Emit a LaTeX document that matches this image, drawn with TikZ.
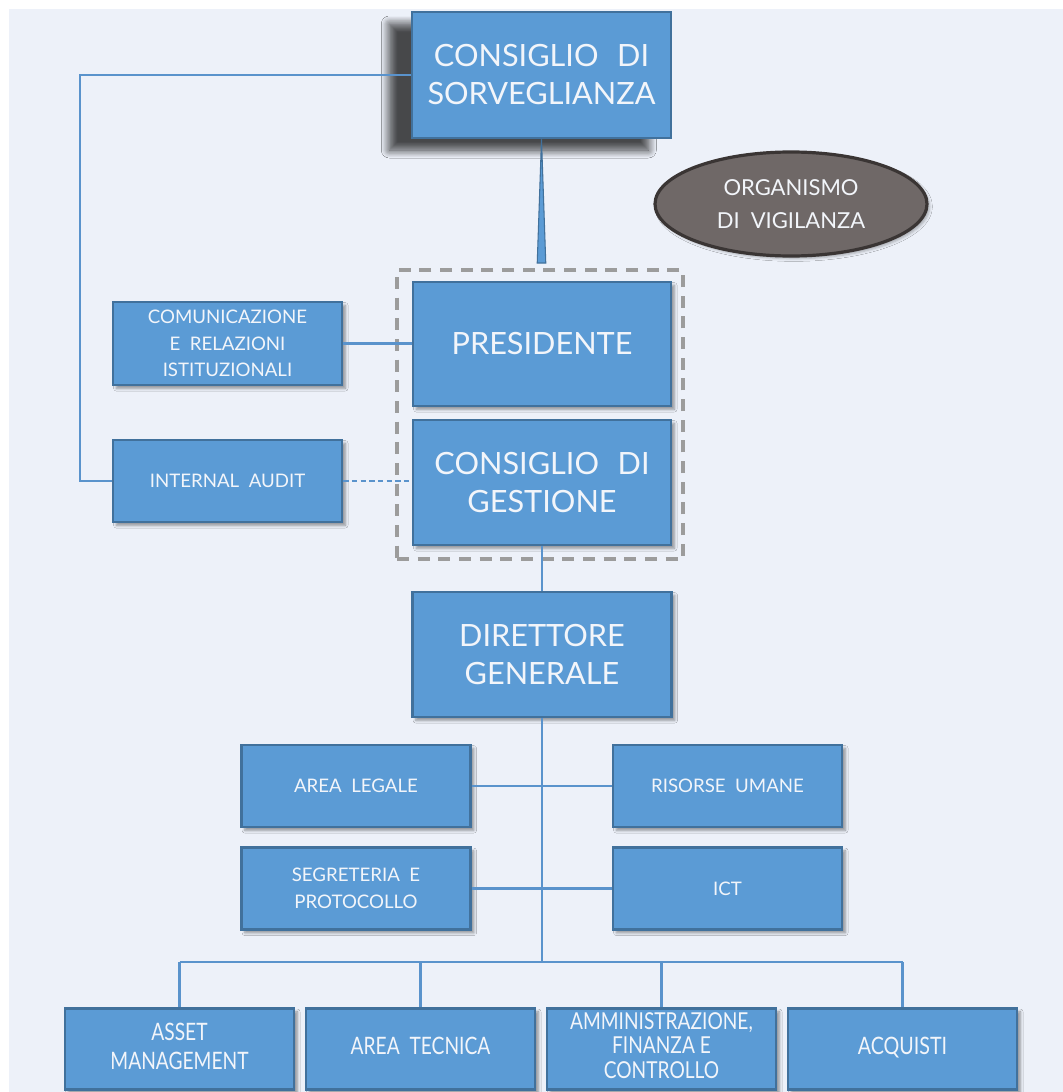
\documentclass[tikz,border=0pt]{standalone}
\usepackage{fontspec}
\usepackage{graphicx}
\setmainfont{Lato}
\usetikzlibrary{shadows.blur,shapes.geometric}
\definecolor{bgc}{HTML}{EDF1F9}
\definecolor{boxfill}{HTML}{5B9BD5}
\definecolor{boxdraw}{HTML}{41719C}
\definecolor{linec}{HTML}{5A93CC}
\definecolor{txtc}{HTML}{F2F5FA}
\definecolor{ellfill}{HTML}{6F6867}
\definecolor{elldraw}{HTML}{3A3534}
\definecolor{dashgray}{HTML}{9C9C9C}
\newcommand{\cond}[2]{\scalebox{#1}[1]{\begin{tabular}{@{}c@{}}#2\end{tabular}}}
\begin{document}
\begin{tikzpicture}[x=0.75pt,y=-0.75pt,
  wh/.style 2 args={minimum width=#1*0.75pt,minimum height=#2*0.75pt},
  box/.style={draw=boxdraw,fill=boxfill,line width=1.9pt,inner sep=0pt,
    text=txtc,align=center,
    blur shadow={shadow xshift=2.5pt,shadow yshift=-2.5pt,shadow blur steps=6,shadow opacity=40}},
  bigbox/.style={box,font=\fontsize{23}{28.5}\selectfont},
  smallbox/.style={box,font=\fontsize{14}{20}\selectfont},
  lowbox/.style={box,font=\fontsize{18}{21.5}\selectfont},
  conn/.style={draw=linec,line width=1.8pt},
  dashconn/.style={conn,dash pattern=on 4pt off 2.5pt}]
\useasboundingbox (0,0) rectangle (1063,1092);
\fill[white] (0,0) rectangle (1063,1092);
\fill[bgc] (9,9) rectangle (1063,1092);

% dashed group
\node[draw=dashgray,line width=2.5pt,dash pattern=on 9pt off 6.5pt,wh={286}{289}] (grp) at (540,414.5) {};

% top
\node[bigbox,wh={259}{126},
  blur shadow={shadow xshift=-17pt,shadow yshift=-9pt,shadow blur steps=10,shadow blur radius=6pt,shadow opacity=45}]
  (cds) at (541.5,75) {CONSIGLIO\hspace{0.35em} DI\\SORVEGLIANZA};
\node[ellipse,draw=elldraw,line width=2.4pt,fill=ellfill,wh={272}{104},inner sep=0pt,
  text=txtc,align=center,font=\fontsize{16.5}{25}\selectfont,
  blur shadow={shadow xshift=2pt,shadow yshift=-2pt,shadow opacity=30}]
  (odv) at (791,204) {ORGANISMO\\DI\hspace{0.25em} VIGILANZA};

\node[bigbox,wh={258}{124}] (pres) at (542,344) {PRESIDENTE};
\node[bigbox,wh={258}{125}] (cdg) at (542,482.5) {CONSIGLIO\hspace{0.35em} DI\\GESTIONE};
\node[smallbox,wh={229}{83}] (com) at (227.5,343.5) {COMUNICAZIONE\\E\hspace{0.25em} RELAZIONI\\ISTITUZIONALI};
\node[smallbox,wh={229}{82}] (ia) at (227.5,481) {INTERNAL\hspace{0.25em} AUDIT};

\node[bigbox,wh={259}{125}] (dg) at (542,654.5) {DIRETTORE\\GENERALE};

\node[smallbox,wh={229}{82}] (al) at (356,786) {AREA\hspace{0.25em} LEGALE};
\node[smallbox,wh={229}{82}] (ru) at (727.5,786) {RISORSE\hspace{0.25em} UMANE};
\node[smallbox,wh={229}{82}] (seg) at (356,888.5) {SEGRETERIA\hspace{0.25em} E\\PROTOCOLLO};
\node[smallbox,wh={229}{82}] (ict) at (727.5,888.5) {ICT};

\node[lowbox,wh={229}{81}] (am) at (179.5,1049) {\raisebox{-4pt}{\cond{0.8}{ASSET\\MANAGEMENT}}};
\node[lowbox,wh={229}{81}] (at) at (420.5,1049) {\cond{0.8}{AREA\hspace{0.25em} TECNICA}};
\node[lowbox,wh={229}{81}] (amm) at (661.5,1049) {\fontsize{17.5}{18.5}\selectfont\cond{0.82}{AMMINISTRAZIONE,\\FINANZA E\\CONTROLLO}};
\node[lowbox,wh={229}{81}] (acq) at (902.5,1049) {\cond{0.82}{ACQUISTI}};

% connectors
\draw[conn] (cds.west) -- ++(-331,0) |- (ia.west);
\coordinate (gtop) at (541.5,263);
\filldraw[draw=boxdraw,fill=boxfill,line width=0.8pt,line join=miter] (cds.south) -- ([xshift=-3.2pt]gtop) -- ([xshift=3.2pt]gtop) -- cycle;
\draw[conn] (com.east) -- (com.east -| pres.west);
\draw[dashconn] (ia.east) -- (ia.east -| cdg.west);
\draw[conn] (cdg.south) -- (dg.north);
\coordinate (bus) at (542,962);
\draw[conn] (dg.south) -- (bus);
\draw[conn] (al.east) -- (ru.west);
\draw[conn] (seg.east) -- (ict.west);
\draw[conn] (bus -| am.north) -- (bus -| acq.north);
\draw[conn] (bus -| am.north) -- (am.north);
\draw[conn] (bus -| at.north) -- (at.north);
\draw[conn] (bus -| amm.north) -- (amm.north);
\draw[conn] (bus -| acq.north) -- (acq.north);
\end{tikzpicture}
\end{document}
